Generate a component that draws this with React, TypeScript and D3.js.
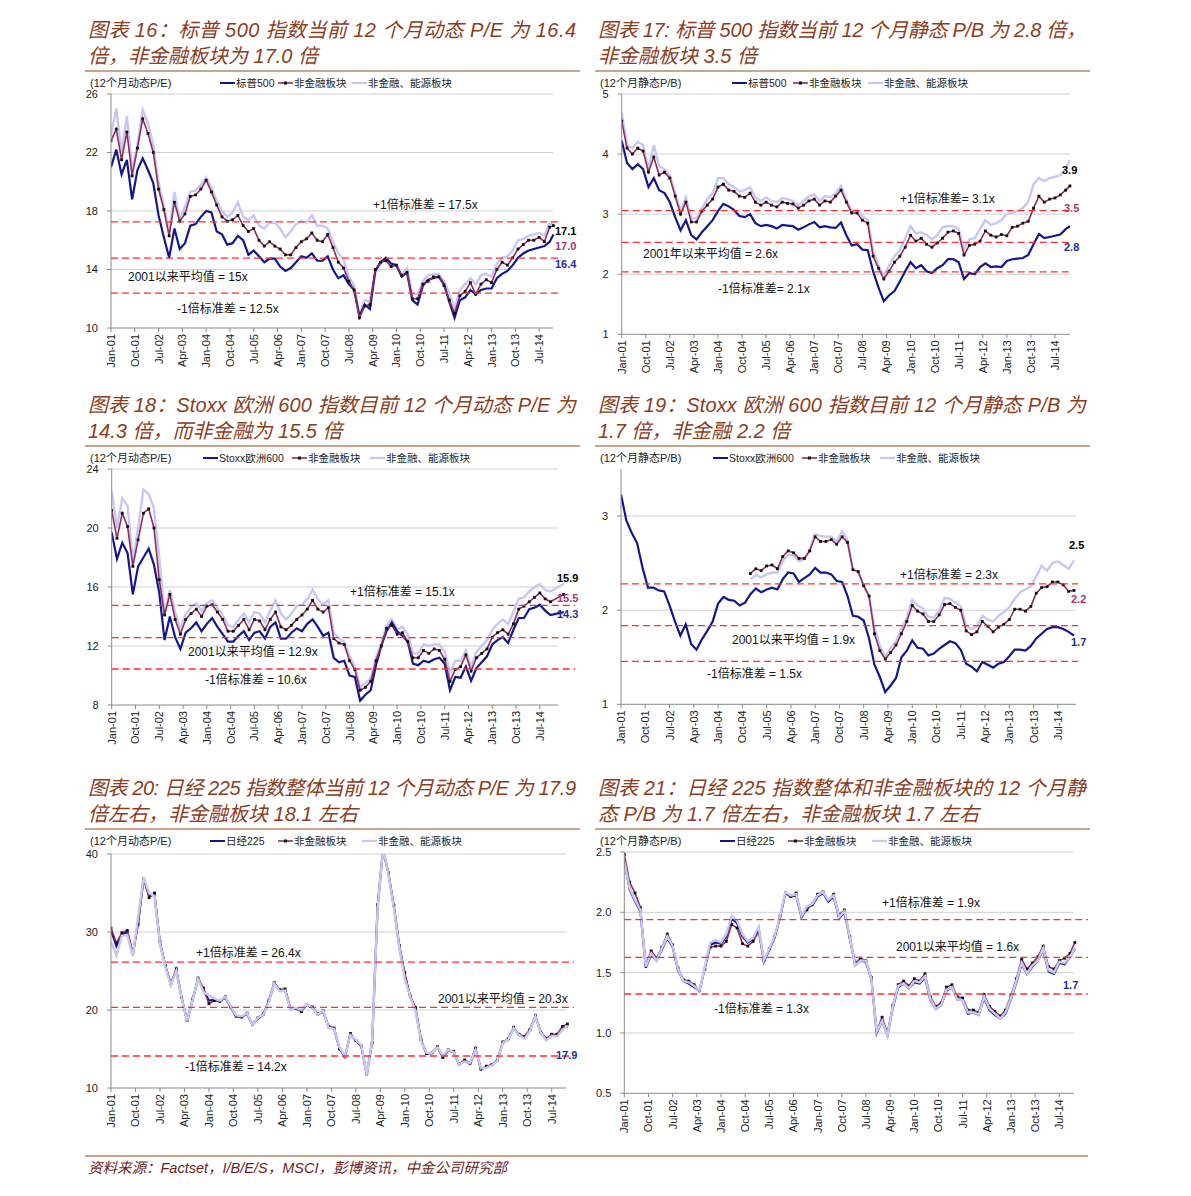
import React from "react";
import * as d3 from "d3";

// month offsets from Jan-01 (every 2 months); the last value of each series sits at the panel's end month
const months = [
  0, 2, 4, 6, 8, 10, 12, 14, 16, 18, 20, 22, 24, 26, 28, 30, 32, 34, 36, 38,
  40, 42, 44, 46, 48, 50, 52, 54, 56, 58, 60, 62, 64, 66, 68, 70, 72, 74, 76, 78,
  80, 82, 84, 86, 88, 90, 92, 94, 96, 98, 100, 102, 104, 106, 108, 110, 112, 114, 116, 118,
  120, 122, 124, 126, 128, 130, 132, 134, 136, 138, 140, 142, 144, 146, 148, 150, 152, 154, 156, 158,
  160, 162, 164, 166,
];
const tickMonths = [0, 9, 18, 27, 36, 45, 54, 63, 72, 81, 90, 99, 108, 117, 126, 135, 144, 153, 162];
const tickLabels = [
  "Jan-01", "Oct-01", "Jul-02", "Apr-03", "Jan-04", "Oct-04", "Jul-05", "Apr-06", "Jan-07", "Oct-07",
  "Jul-08", "Apr-09", "Jan-10", "Oct-10", "Jul-11", "Apr-12", "Jan-13", "Oct-13", "Jul-14",
];
const legendNames = ["非金融板块", "非金融、能源板块"];

// 图表16 S&P500 12m forward P/E
const spPe = [
  21.0, 22.2, 20.5, 21.5, 18.8, 20.8, 21.6, 20.8, 19.9, 17.7,
  16.2, 14.8, 16.8, 15.4, 15.8, 17.0, 17.1, 17.6, 18.0, 17.9,
  16.6, 16.4, 15.7, 15.8, 16.3, 16.0, 15.0, 15.3, 14.9, 14.5,
  14.75, 14.75, 14.2, 13.9, 14.1, 14.5, 14.9, 14.8, 15.1, 14.6,
  14.6, 14.9, 14.0, 13.4, 13.6, 13.0, 12.6, 10.8, 11.6, 11.3,
  13.9, 14.5, 14.8, 14.4, 14.3, 13.5, 13.8, 11.9, 11.6, 12.9,
  13.3, 13.4, 13.5, 13.0, 11.8, 10.7, 11.9, 12.1, 12.6, 12.3,
  12.6, 12.7, 12.7, 13.4, 13.7, 13.9, 14.3, 14.8, 15.1, 15.3,
  15.4, 15.5, 15.6, 15.9, 16.4,
];
const spPeNonFin = [
  22.8, 23.6, 21.5, 23.4, 20.4, 22.3, 24.3, 23.3, 22.0, 19.5,
  18.1, 16.3, 18.6, 17.3, 17.8, 19.0, 19.1, 19.5, 20.1, 19.3,
  18.4, 17.6, 17.3, 17.4, 17.7, 17.0, 16.6, 16.8, 16.0, 15.6,
  15.9, 15.6, 15.4, 15.0, 15.0, 15.5, 15.9, 16.1, 16.5, 16.0,
  15.9, 16.4, 15.5, 14.5, 14.1, 13.2, 12.6, 10.7, 11.5, 11.6,
  14.0, 14.5, 14.6, 14.2, 14.3, 13.6, 13.8, 12.0, 12.0, 13.0,
  13.2, 13.5, 13.5, 12.9, 11.9, 11.0, 12.2, 12.5, 13.1, 12.3,
  13.0, 13.3, 13.1, 14.0, 14.5, 14.3, 14.8, 15.4, 15.7, 16.0,
  16.0, 16.2, 15.9, 16.9, 17.0,
];
const spPeNonFinEnergy = [
  23.2, 25.0, 22.0, 24.5, 20.8, 22.5, 24.9, 24.0, 22.5, 20.0,
  18.3, 16.5, 19.3, 17.4, 18.3, 19.3, 19.4, 19.8, 20.3, 19.6,
  18.7, 18.0, 17.6, 17.9, 18.6, 17.6, 17.4, 17.7, 17.0, 16.8,
  17.2, 17.2, 16.8, 16.2, 16.6, 17.1, 17.3, 17.2, 17.7, 17.0,
  17.0, 16.8, 15.9, 15.1, 14.7, 13.5, 12.9, 10.9, 11.9, 11.8,
  13.8, 14.4, 14.7, 14.3, 14.2, 13.6, 14.1, 12.3, 12.3, 13.2,
  13.6, 13.7, 13.7, 13.2, 12.4, 11.3, 12.6, 13.0, 13.4, 13.0,
  13.6, 13.7, 13.5, 14.4, 14.8, 14.9, 15.3, 16.0, 16.1, 16.3,
  16.4, 16.5, 16.3, 17.2, 17.1,
];

// 图表17 S&P500 trailing P/B
const spPb = [
  4.22, 3.85, 3.75, 3.83, 3.75, 3.45, 3.6, 3.4, 3.35, 3.2,
  2.95, 2.73, 2.9, 2.65, 2.58, 2.7, 2.8, 2.9, 3.05, 3.17,
  3.13, 3.07, 2.97, 2.95, 3.0, 2.85, 2.8, 2.82, 2.8, 2.76,
  2.82, 2.81, 2.8, 2.74, 2.78, 2.83, 2.87, 2.78, 2.8, 2.78,
  2.77, 2.86, 2.65, 2.48, 2.5, 2.41, 2.4, 2.05, 1.78, 1.55,
  1.65, 1.72, 1.88, 2.05, 2.2, 2.1, 2.15, 2.05, 2.02, 2.1,
  2.15, 2.25, 2.25, 2.2, 1.92, 2.02, 2.0, 2.12, 2.18, 2.12,
  2.13, 2.12, 2.22, 2.25, 2.26, 2.27, 2.32, 2.5, 2.67, 2.6,
  2.62, 2.64, 2.66, 2.75, 2.8,
];
const spPbNonFin = [
  4.55, 4.1, 4.0, 4.1, 4.05, 3.7, 3.95, 3.65, 3.7, 3.6,
  3.3, 3.0, 3.2, 2.87, 2.87, 3.05, 3.15, 3.25, 3.45, 3.5,
  3.4, 3.38, 3.3, 3.28, 3.35, 3.2, 3.15, 3.2, 3.15, 3.12,
  3.2, 3.18, 3.17, 3.1, 3.15, 3.22, 3.25, 3.15, 3.22, 3.2,
  3.3, 3.4, 3.2, 3.02, 3.02, 2.9, 2.85, 2.3, 2.1, 1.92,
  2.05, 2.2, 2.3, 2.45, 2.65, 2.55, 2.6, 2.5, 2.45, 2.52,
  2.6, 2.7, 2.72, 2.68, 2.32, 2.48, 2.5, 2.55, 2.72, 2.65,
  2.62, 2.66, 2.64, 2.78, 2.8, 2.85, 2.88, 3.1, 3.3, 3.2,
  3.25, 3.27, 3.32, 3.4, 3.47,
];
const spPbNonFinEnergy = [
  4.68, 4.15, 4.1, 4.2, 4.15, 3.75, 4.15, 3.8, 3.75, 3.65,
  3.35, 3.05, 3.28, 2.93, 2.93, 3.1, 3.25, 3.35, 3.6, 3.6,
  3.5, 3.45, 3.38, 3.4, 3.45, 3.28, 3.22, 3.28, 3.22, 3.2,
  3.27, 3.25, 3.22, 3.15, 3.22, 3.3, 3.33, 3.22, 3.3, 3.28,
  3.35, 3.47, 3.25, 3.05, 3.07, 2.97, 2.9, 2.4, 2.15, 1.97,
  2.15, 2.3, 2.4, 2.6, 2.8, 2.68, 2.7, 2.65, 2.58, 2.65,
  2.78, 2.8, 2.8, 2.75, 2.42, 2.58, 2.6, 2.75, 2.9, 2.82,
  2.85, 2.9, 3.0, 3.02, 3.05, 3.1, 3.2, 3.5, 3.6, 3.55,
  3.6, 3.62, 3.65, 3.75, 3.9,
];

// 图表18 Stoxx Europe 600 12m forward P/E
const stoxxPe = [
  19.7, 17.9, 19.0, 18.3, 15.5, 17.4, 18.0, 18.6, 17.5, 15.6,
  12.4, 14.0, 12.6, 11.8, 12.9, 13.2, 13.6, 13.0, 13.5, 13.9,
  13.3, 12.8, 12.3, 12.3, 12.7, 13.0, 12.4, 12.9, 13.0, 12.5,
  13.3, 13.6, 12.5, 12.5, 12.9, 13.2, 13.0, 13.5, 13.8, 13.3,
  12.7, 12.9, 11.2, 10.9, 11.0, 10.0, 9.9, 8.3, 8.7, 9.0,
  10.7, 12.0, 13.0, 13.6, 13.0, 12.7, 12.3, 10.8, 10.7, 11.0,
  10.9, 11.1, 11.2, 10.8, 9.0, 9.9, 9.85, 10.6, 9.65, 10.5,
  10.9, 11.3, 12.1, 12.4, 12.6, 12.2, 13.1, 13.9, 13.9, 14.5,
  14.6, 14.8, 14.4, 14.1, 14.3,
];
const stoxxPeNonFin = [
  21.2, 19.3, 21.0, 20.1, 17.4, 19.2, 21.0, 21.3, 20.0, 16.5,
  14.1, 15.5, 13.8, 12.8, 13.8, 14.2, 14.5, 14.0, 14.7, 14.8,
  14.3, 13.8, 13.0, 13.0, 13.4, 13.8, 13.1, 13.8, 13.7, 13.1,
  13.8, 14.3, 13.3, 13.1, 13.4, 13.8, 14.1, 14.5, 15.1, 14.5,
  14.3, 14.6, 12.5, 12.2, 12.1, 11.0, 10.4, 9.0, 9.2, 9.6,
  11.0, 12.0, 13.2, 13.4, 12.8, 12.9, 12.3, 11.2, 11.2, 11.7,
  11.5, 11.8, 11.7, 11.1, 9.6, 10.4, 10.6, 11.4, 10.3, 11.2,
  11.5, 11.8, 12.6, 12.9, 13.1, 12.8, 13.5, 14.5, 14.7, 15.0,
  15.3, 15.6, 15.2, 15.0, 15.5,
];
const stoxxPeNonFinEnergy = [
  22.5, 20.0, 22.0, 21.5, 17.8, 20.0, 22.6, 22.3, 21.3, 18.0,
  14.2, 15.8, 14.3, 13.1, 14.2, 14.6, 14.9, 14.4, 14.9, 15.1,
  14.6, 14.1, 13.4, 13.3, 13.8, 14.2, 13.6, 14.3, 14.2, 13.6,
  14.4, 15.1, 14.2, 13.8, 14.2, 14.7, 14.8, 15.2, 15.8, 15.2,
  14.8, 15.1, 12.9, 12.5, 12.3, 11.3, 10.6, 9.2, 9.5, 9.8,
  11.2, 12.2, 13.4, 13.8, 13.1, 13.3, 12.8, 11.5, 11.5, 12.1,
  12.0, 12.1, 12.1, 11.6, 10.2, 11.0, 11.0, 11.7, 10.6, 11.6,
  12.0, 12.4, 13.1, 13.5, 13.8, 13.5, 14.3, 15.2, 15.3, 15.7,
  16.0, 16.2, 15.8, 15.7, 16.2,
];

// 图表19 Stoxx Europe 600 trailing P/B (sector series start in 2005)
const stoxxPb = [
  3.23, 2.95, 2.82, 2.71, 2.45, 2.24, 2.24, 2.21, 2.2, 2.05,
  1.88, 1.73, 1.85, 1.64, 1.58, 1.69, 1.78, 1.88, 2.07, 2.14,
  2.11, 2.1, 2.05, 2.08, 2.17, 2.23, 2.19, 2.22, 2.24, 2.22,
  2.33, 2.4, 2.39, 2.3, 2.34, 2.38, 2.45, 2.4, 2.4, 2.38,
  2.31, 2.3, 2.15, 1.94, 1.93, 1.89, 1.7, 1.42, 1.29, 1.13,
  1.2, 1.28, 1.5, 1.57, 1.68, 1.6, 1.59, 1.52, 1.54, 1.59,
  1.63, 1.67, 1.65, 1.58, 1.43, 1.4, 1.35, 1.45, 1.42, 1.39,
  1.43, 1.45, 1.51, 1.58, 1.58, 1.57, 1.62, 1.7, 1.75, 1.8,
  1.82, 1.82, 1.8, 1.77, 1.73,
];
const stoxxPbNonFin = [
  null, null, null, null, null, null, null, null, null, null,
  null, null, null, null, null, null, null, null, null, null,
  null, null, null, null,
  2.39, 2.44, 2.42, 2.47, 2.48, 2.44, 2.57, 2.63, 2.61, 2.55,
  2.55, 2.63, 2.78, 2.73, 2.73, 2.75, 2.7, 2.78, 2.72, 2.43,
  2.41, 2.26, 2.15, 1.75, 1.57, 1.48, 1.55, 1.63, 1.75, 1.88,
  2.05, 1.99, 1.96, 1.88, 1.88, 1.95, 2.06, 2.07, 2.03, 2.0,
  1.78, 1.74, 1.77, 1.88, 1.83, 1.77, 1.82, 1.85, 1.9, 2.01,
  2.01, 1.99, 2.04, 2.18, 2.24, 2.25, 2.3, 2.3, 2.27, 2.2,
  2.21,
];
const stoxxPbNonFinEnergy = [
  null, null, null, null, null, null, null, null, null, null,
  null, null, null, null, null, null, null, null, null, null,
  null, null, null, null,
  2.33, 2.37, 2.35, 2.38, 2.4, 2.4, 2.52, 2.59, 2.58, 2.52,
  2.54, 2.65, 2.81, 2.79, 2.78, 2.78, 2.73, 2.84, 2.75, 2.43,
  2.41, 2.26, 2.15, 1.82, 1.62, 1.5, 1.6, 1.67, 1.8, 1.92,
  2.11, 2.05, 2.02, 1.93, 1.92, 2.0, 2.13, 2.12, 2.08, 2.04,
  1.84, 1.8, 1.83, 1.94, 1.9, 1.88, 1.94, 1.98, 2.03, 2.12,
  2.19, 2.22, 2.25, 2.36, 2.47, 2.42, 2.5, 2.52, 2.48, 2.44,
  2.53,
];

// 图表20 Nikkei 225 12m forward P/E
const nikkeiPe = [
  30.2, 28.2, 29.7, 30.0, 27.1, 31.3, 36.9, 34.6, 34.8, 28.6,
  25.6, 23.3, 25.1, 21.5, 18.6, 21.3, 24.0, 22.6, 21.2, 21.3,
  21.1, 21.6, 20.4, 19.2, 19.1, 19.5, 18.1, 18.9, 19.4, 21.1,
  23.4, 22.5, 22.6, 20.1, 20.2, 19.9, 20.7, 20.3, 19.4, 19.8,
  17.8, 17.6, 15.1, 14.0, 16.9, 16.1, 15.4, 11.7, 15.9, 33.2,
  40.6, 37.5, 33.2, 28.1, 24.4, 21.7, 20.0, 16.1, 14.4, 14.5,
  15.2, 14.0, 14.8, 14.6, 13.0, 13.5, 13.1, 15.0, 12.4, 12.7,
  12.9, 13.5, 15.8, 16.2, 17.7, 16.8, 16.4, 17.4, 19.2, 17.1,
  16.2, 16.8, 16.7, 17.7, 17.9,
];
const nikkeiPeNonFin = [
  30.5, 28.6, 29.9, 30.2, 27.3, 31.0, 36.8, 34.4, 35.0, 28.8,
  25.7, 23.4, 25.3, 21.6, 18.7, 21.4, 24.1, 22.8, 20.8, 21.2,
  21.1, 21.7, 20.4, 19.2, 19.1, 19.6, 18.2, 19.0, 19.5, 21.2,
  23.5, 22.6, 22.7, 20.2, 20.2, 19.8, 20.7, 20.4, 19.5, 19.9,
  17.9, 17.7, 15.0, 14.0, 17.0, 16.1, 15.4, 11.8, 15.8, 33.5,
  40.6, 37.6, 33.4, 28.3, 24.8, 21.8, 20.3, 16.2, 14.4, 14.5,
  15.3, 13.9, 14.9, 14.7, 13.1, 13.6, 13.2, 15.1, 12.4, 12.8,
  13.0, 13.6, 15.9, 16.3, 17.8, 16.9, 16.6, 17.5, 19.3, 17.2,
  16.3, 16.9, 16.9, 17.9, 18.2,
];
const nikkeiPeNonFinEnergy = [
  28.8, 27.0, 29.5, 29.6, 26.9, 32.0, 37.0, 35.0, 34.6, 28.5,
  25.5, 23.2, 25.0, 21.5, 18.6, 21.3, 24.0, 22.3, 21.9, 21.5,
  21.2, 21.7, 20.5, 19.3, 19.2, 19.6, 18.1, 19.0, 19.4, 21.0,
  23.4, 22.4, 22.5, 20.0, 20.3, 20.0, 20.8, 20.3, 19.4, 19.9,
  17.7, 17.6, 15.2, 14.1, 16.8, 16.2, 15.5, 11.7, 16.0, 33.0,
  40.8, 37.4, 33.0, 28.0, 24.0, 21.7, 19.8, 16.0, 14.5, 14.5,
  15.2, 14.2, 14.9, 14.6, 13.0, 13.4, 13.2, 14.9, 12.5, 12.6,
  12.9, 13.5, 15.8, 16.2, 17.7, 16.8, 16.3, 17.3, 19.2, 17.1,
  16.1, 16.7, 16.6, 17.5, 18.0,
];

// 图表21 Nikkei 225 trailing P/B
const nikkeiPb = [
  2.42, 2.19, 2.09, 2.01, 1.54, 1.65, 1.6, 1.69, 1.79, 1.71,
  1.52, 1.43, 1.41, 1.38, 1.35, 1.54, 1.73, 1.75, 1.74, 1.8,
  1.95, 1.91, 1.8, 1.75, 1.78, 1.87, 1.59, 1.69, 1.79, 1.96,
  2.16, 2.13, 2.14, 1.96, 2.04, 2.06, 2.13, 2.16, 2.09, 2.13,
  1.95, 2.0, 1.78, 1.56, 1.6, 1.59, 1.45, 1.0, 1.1, 0.98,
  1.21, 1.38, 1.41, 1.37, 1.42, 1.41, 1.46, 1.27, 1.2, 1.23,
  1.35, 1.38, 1.28, 1.27, 1.16, 1.17, 1.15, 1.29, 1.19, 1.15,
  1.12, 1.16, 1.28, 1.42, 1.57, 1.49, 1.55, 1.6, 1.69, 1.51,
  1.49, 1.58, 1.57, 1.63, 1.7,
];
const nikkeiPbNonFin = [
  2.48, 2.25, 2.16, 2.04, 1.57, 1.68, 1.62, 1.71, 1.82, 1.73,
  1.54, 1.44, 1.43, 1.4, 1.35, 1.53, 1.71, 1.72, 1.72, 1.76,
  1.9, 1.87, 1.74, 1.72, 1.76, 1.84, 1.6, 1.7, 1.8, 1.97,
  2.16, 2.13, 2.16, 1.97, 2.02, 2.07, 2.15, 2.17, 2.1, 2.15,
  1.98, 2.02, 1.8, 1.58, 1.62, 1.6, 1.46, 1.02, 1.13, 1.0,
  1.23, 1.4, 1.43, 1.39, 1.45, 1.43, 1.49, 1.3, 1.22, 1.25,
  1.38, 1.4, 1.3, 1.29, 1.19, 1.19, 1.17, 1.32, 1.22, 1.18,
  1.14, 1.19, 1.31, 1.45, 1.61, 1.53, 1.58, 1.63, 1.72, 1.55,
  1.53, 1.6, 1.62, 1.66, 1.75,
];
const nikkeiPbNonFinEnergy = [
  2.42, 2.2, 2.1, 2.02, 1.55, 1.66, 1.6, 1.7, 1.8, 1.72,
  1.53, 1.43, 1.42, 1.39, 1.35, 1.55, 1.75, 1.77, 1.75, 1.82,
  1.97, 1.93, 1.82, 1.76, 1.79, 1.88, 1.6, 1.7, 1.8, 1.97,
  2.17, 2.14, 2.15, 1.97, 2.05, 2.07, 2.14, 2.17, 2.1, 2.14,
  1.96, 2.01, 1.79, 1.56, 1.6, 1.6, 1.45, 1.01, 1.1, 0.98,
  1.22, 1.39, 1.41, 1.37, 1.43, 1.42, 1.47, 1.28, 1.2, 1.23,
  1.36, 1.38, 1.28, 1.27, 1.17, 1.17, 1.15, 1.3, 1.2, 1.16,
  1.12, 1.17, 1.29, 1.43, 1.58, 1.49, 1.56, 1.6, 1.7, 1.52,
  1.5, 1.59, 1.58, 1.63, 1.71,
];

const NAVY = "#12188c";
const MAROON = "#8f2d57";
const PALE = "#c7c7f6";
const RED = "#ff2e2e";
const BROWN = "#8c3d1c";
const RULE = "#bb8464";
const NAVY_TXT = "#1c2e9e";
const MAROON_TXT = "#a33a6c";
const SANS = "'Liberation Sans', Arial, 'Noto Sans CJK SC', sans-serif";

type Pt = { m: number; v: number | null };

function Panel({ c }: { c: any }) {
  const x = d3.scaleLinear().domain([0, 168]).range([c.x0, c.x1]);
  const y = d3.scaleLinear().domain(c.yDomain).range([c.yBottom, c.yTop]);
  const toPts = (vals: (number | null)[]): Pt[] =>
    vals.map((v, i) => ({ m: i < months.length ? months[i] : c.endMonth, v }));
  const line = d3
    .line<Pt>()
    .defined((d) => d.v != null)
    .x((d) => x(d.m))
    .y((d) => y(d.v as number));
  const navy = toPts(c.series[0]);
  const maroon = toPts(c.series[1]);
  const pale = toPts(c.series[2]);
  const clipId = "clip_" + c.id;
  const fmt = c.yFmt ? d3.format(c.yFmt) : (v: number) => String(v);

  const palePath = <path d={line(pale) || ""} fill="none" stroke={PALE} strokeWidth={2.4} />;
  const navyPath = <path d={line(navy) || ""} fill="none" stroke={NAVY} strokeWidth={2.2} />;
  const maroonPath = (
    <g>
      <path d={line(maroon) || ""} fill="none" stroke={MAROON} strokeWidth={1.6} />
      {maroon
        .filter((d) => d.v != null)
        .map((d, i) => (
          <rect key={i} x={x(d.m) - 1.4} y={y(d.v as number) - 1.4} width={2.8} height={2.8} fill="#111" />
        ))}
    </g>
  );

  const lx = c.legendX;
  return (
    <g>
      {/* title */}
      <text x={c.left + 3} y={c.titleY} fontSize={20} fontStyle="italic" fill={BROWN} fontFamily={SANS}
        textLength={c.titleWidth} lengthAdjust="spacing">
        {c.titles[0]}
      </text>
      <text x={c.left + 3} y={c.titleY + 26} fontSize={20} fontStyle="italic" fill={BROWN} fontFamily={SANS}>
        {c.titles[1]}
      </text>
      <line x1={c.left} x2={c.left + 495} y1={c.titleY + 34} y2={c.titleY + 34} stroke={RULE} strokeWidth={1.6} />

      {/* header + legend */}
      <text x={c.left + 5} y={c.titleY + 50} fontSize={11} fontFamily={SANS} fill="#222">{c.header}</text>
      <g fontSize={10.5} fontFamily={SANS} fill="#222">
        <line x1={lx[0]} x2={lx[0] + 15} y1={c.titleY + 46} y2={c.titleY + 46} stroke={NAVY} strokeWidth={2} />
        <text x={lx[0] + 16} y={c.titleY + 50}>{c.firstName}</text>
        <line x1={lx[1]} x2={lx[1] + 15} y1={c.titleY + 46} y2={c.titleY + 46} stroke={MAROON} strokeWidth={1.6} />
        <rect x={lx[1] + 6} y={c.titleY + 44.5} width={3} height={3} fill="#111" />
        <text x={lx[1] + 16} y={c.titleY + 50}>{legendNames[0]}</text>
        <line x1={lx[2]} x2={lx[2] + 15} y1={c.titleY + 46} y2={c.titleY + 46} stroke={PALE} strokeWidth={2.2} />
        <text x={lx[2] + 16} y={c.titleY + 50}>{legendNames[1]}</text>
      </g>

      {/* grid */}
      {c.yTicks.map((t: number) =>
        t === c.yDomain[0] ? null : (
          <line key={t} x1={c.x0} x2={c.gridEnd} y1={y(t)} y2={y(t)} stroke="#cfcfcf" strokeWidth={1} />
        )
      )}

      {/* series */}
      <clipPath id={clipId}>
        <rect x={c.x0} y={c.yTop} width={c.gridEnd - c.x0 + 30} height={c.yBottom - c.yTop} />
      </clipPath>
      <g clipPath={`url(#${clipId})`}>
        {c.paleOnTop ? null : palePath}
        {navyPath}
        {maroonPath}
        {c.paleOnTop ? palePath : null}
      </g>

      {/* axes */}
      <line x1={c.x0} x2={c.x0} y1={c.yTop} y2={c.yBottom} stroke="#8a8a8a" />
      <line x1={c.x0} x2={c.gridEnd} y1={c.yBottom} y2={c.yBottom} stroke="#8a8a8a" />
      {c.yTicks.map((t: number) => (
        <g key={t}>
          <line x1={c.x0 - 4} x2={c.x0} y1={y(t)} y2={y(t)} stroke="#8a8a8a" />
          <text x={c.x0 - 13} y={y(t)} dy="0.35em" textAnchor="end" fontSize={11} fontFamily={SANS} fill="#222">
            {fmt(t)}
          </text>
        </g>
      ))}
      {tickMonths.map((m, i) => (
        <g key={m}>
          <line x1={x(m)} x2={x(m)} y1={c.yBottom} y2={c.yBottom + 4} stroke="#8a8a8a" />
          <text transform={`translate(${x(m) + 4},${c.yBottom + 6}) rotate(-90)`} textAnchor="end"
            fontSize={11} fontFamily={SANS} fill="#222">
            {tickLabels[i]}
          </text>
        </g>
      ))}

      {/* reference lines */}
      {c.refs.map((r: any) => (
        <g key={r.label}>
          <line x1={c.x0} x2={c.refEnd} y1={y(r.v)} y2={y(r.v)} stroke={RED} strokeWidth={1.3} strokeDasharray="7,4" />
          <text x={r.lx} y={r.ly} fontSize={12} fontFamily={SANS} fill="#111">{r.label}</text>
        </g>
      ))}

      {c.endLabels.map((e: any) => (
        <text key={e.text + e.color} x={e.x} y={e.y} fontSize={11} fontWeight="bold" fontFamily={SANS} fill={e.color}>
          {e.text}
        </text>
      ))}
    </g>
  );
}

const panels = [
  {
    id: "p1", left: 85, titleY: 37, titleWidth: 488,
    titles: ["图表 16：标普 500 指数当前 12 个月动态 P/E 为 16.4", "倍，非金融板块为 17.0 倍"],
    header: "(12个月动态P/E)", firstName: "标普500", legendX: [220, 278, 352],
    x0: 111, x1: 555, yDomain: [10, 26], yTop: 94, yBottom: 328, yTicks: [10, 14, 18, 22, 26],
    gridEnd: 553, refEnd: 558, endMonth: 167.4, paleOnTop: false,
    series: [spPe, spPeNonFin, spPeNonFinEnergy],
    refs: [
      { v: 17.25, label: "+1倍标准差 = 17.5x", lx: 373, ly: 209 },
      { v: 14.78, label: "2001以来平均值 = 15x", lx: 128, ly: 281 },
      { v: 12.38, label: "-1倍标准差 = 12.5x", lx: 177, ly: 313 },
    ],
    endLabels: [
      { text: "17.1", color: "#000", x: 555, y: 235 },
      { text: "17.0", color: MAROON_TXT, x: 555, y: 250 },
      { text: "16.4", color: NAVY_TXT, x: 555, y: 268 },
    ],
  },
  {
    id: "p2", left: 595, titleY: 37, titleWidth: 488,
    titles: ["图表 17: 标普 500 指数当前 12 个月静态 P/B 为 2.8 倍，", "非金融板块 3.5 倍"],
    header: "(12个月静态P/B)", firstName: "标普500", legendX: [732, 793, 868],
    x0: 621.7, x1: 1071, yDomain: [1, 5], yTop: 94, yBottom: 334.3, yTicks: [1, 2, 3, 4, 5],
    gridEnd: 1070, refEnd: 1070, endMonth: 167.6, paleOnTop: false,
    series: [spPb, spPbNonFin, spPbNonFinEnergy],
    refs: [
      { v: 3.06, label: "+1倍标准差= 3.1x", lx: 900, ly: 203 },
      { v: 2.53, label: "2001年以来平均值 = 2.6x", lx: 643, ly: 258 },
      { v: 2.04, label: "-1倍标准差= 2.1x", lx: 718, ly: 293 },
    ],
    endLabels: [
      { text: "3.9", color: "#000", x: 1062, y: 174 },
      { text: "3.5", color: MAROON_TXT, x: 1064, y: 212 },
      { text: "2.8", color: NAVY_TXT, x: 1064, y: 251 },
    ],
  },
  {
    id: "p3", left: 85, titleY: 412, titleWidth: 488,
    titles: ["图表 18：Stoxx 欧洲 600 指数目前 12 个月动态 P/E 为", "14.3 倍，而非金融为 15.5 倍"],
    header: "(12个月动态P/E)", firstName: "Stoxx欧洲600", legendX: [203, 292, 370],
    x0: 111.7, x1: 555.7, yDomain: [8, 24], yTop: 469, yBottom: 705, yTicks: [8, 12, 16, 20, 24],
    gridEnd: 558, refEnd: 575, endMonth: 171, paleOnTop: false,
    series: [stoxxPe, stoxxPeNonFin, stoxxPeNonFinEnergy],
    refs: [
      { v: 14.76, label: "+1倍标准差 = 15.1x", lx: 350, ly: 596 },
      { v: 12.57, label: "2001以来平均值 = 12.9x", lx: 188, ly: 656 },
      { v: 10.44, label: "-1倍标准差 = 10.6x", lx: 205, ly: 684 },
    ],
    endLabels: [
      { text: "15.9", color: "#000", x: 557, y: 582 },
      { text: "15.5", color: MAROON_TXT, x: 557, y: 602 },
      { text: "14.3", color: NAVY_TXT, x: 557, y: 618 },
    ],
  },
  {
    id: "p4", left: 595, titleY: 412, titleWidth: 488,
    titles: ["图表 19：Stoxx 欧洲 600 指数目前 12 个月静态 P/B 为", "1.7 倍，非金融 2.2 倍"],
    header: "(12个月静态P/B)", firstName: "Stoxx欧洲600", legendX: [713, 802, 880],
    x0: 621, x1: 1074, yDomain: [1, 3.5], yTop: 469, yBottom: 704.3, yTicks: [1, 2, 3],
    gridEnd: 1076, refEnd: 1078, endMonth: 168, paleOnTop: false,
    series: [stoxxPb, stoxxPbNonFin, stoxxPbNonFinEnergy],
    refs: [
      { v: 2.28, label: "+1倍标准差 = 2.3x", lx: 900, ly: 579 },
      { v: 1.835, label: "2001以来平均值 = 1.9x", lx: 732, ly: 644 },
      { v: 1.456, label: "-1倍标准差 = 1.5x", lx: 707, ly: 678 },
    ],
    endLabels: [
      { text: "2.5", color: "#000", x: 1069, y: 549 },
      { text: "2.2", color: MAROON_TXT, x: 1071, y: 603 },
      { text: "1.7", color: NAVY_TXT, x: 1071, y: 646 },
    ],
  },
  {
    id: "p5", left: 85, titleY: 795, titleWidth: 488,
    titles: ["图表 20: 日经 225 指数整体当前 12 个月动态 P/E 为 17.9", "倍左右，非金融板块 18.1 左右"],
    header: "(12个月动态P/E)", firstName: "日经225", legendX: [210, 278, 362],
    x0: 111, x1: 568, yDomain: [10, 40], yTop: 854, yBottom: 1088, yTicks: [10, 20, 30, 40],
    gridEnd: 566, refEnd: 574, endMonth: 167.8, paleOnTop: true,
    series: [nikkeiPe, nikkeiPeNonFin, nikkeiPeNonFinEnergy],
    refs: [
      { v: 26.15, label: "+1倍标准差 = 26.4x", lx: 196, ly: 957 },
      { v: 20.34, label: "2001以来平均值 = 20.3x", lx: 438, ly: 1003 },
      { v: 14.1, label: "-1倍标准差 = 14.2x", lx: 185, ly: 1071 },
    ],
    endLabels: [{ text: "17.9", color: NAVY_TXT, x: 556, y: 1059 }],
  },
  {
    id: "p6", left: 595, titleY: 795, titleWidth: 488,
    titles: ["图表 21：日经 225 指数整体和非金融板块的 12 个月静", "态 P/B 为 1.7 倍左右，非金融板块 1.7 左右"],
    header: "(12个月静态P/B)", firstName: "日经225", legendX: [720, 788, 872],
    x0: 624.3, x1: 1075.4, yDomain: [0.5, 2.5], yTop: 852, yBottom: 1093.3, yTicks: [0.5, 1, 1.5, 2, 2.5],
    yFmt: ".1f", gridEnd: 1074, refEnd: 1088, endMonth: 167.8, paleOnTop: true,
    series: [nikkeiPb, nikkeiPbNonFin, nikkeiPbNonFinEnergy],
    refs: [
      { v: 1.94, label: "+1倍标准差 = 1.9x", lx: 882, ly: 907 },
      { v: 1.627, label: "2001以来平均值 = 1.6x", lx: 896, ly: 951 },
      { v: 1.323, label: "-1倍标准差 = 1.3x", lx: 714, ly: 1013 },
    ],
    endLabels: [{ text: "1.7", color: NAVY_TXT, x: 1063, y: 989 }],
  },
];

export default function App() {
  return (
    <svg width={1191} height={1196} style={{ position: "absolute", left: 0, top: 0, background: "#fff" }}>
      <rect width={1191} height={1196} fill="#fff" />
      {panels.map((p) => (
        <Panel key={p.id} c={p} />
      ))}
      <line x1={85} x2={1088} y1={1156} y2={1156} stroke={RULE} strokeWidth={1.6} />
      <text x={88} y={1173} fontSize={14.5} fontStyle="italic" fill="#6e1d1d" fontFamily={SANS}>
        资料来源：Factset，I/B/E/S，MSCI，彭博资讯，中金公司研究部
      </text>
    </svg>
  );
}
